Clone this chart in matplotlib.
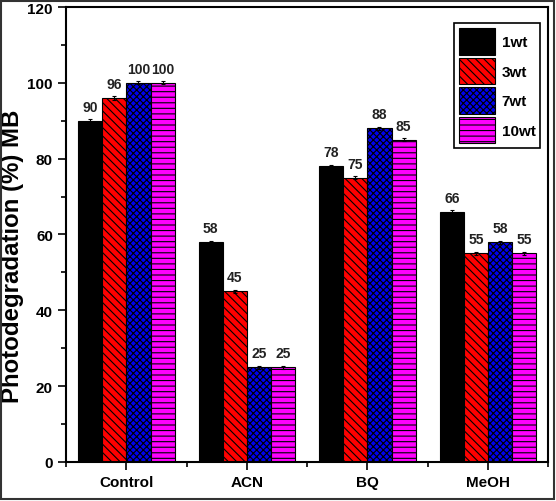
import matplotlib
matplotlib.use("Agg")
import matplotlib.pyplot as plt
import numpy as np
from matplotlib.patches import Rectangle
from matplotlib.ticker import MultipleLocator

categories = ["Control", "ACN", "BQ", "MeOH"]
series_names = ["1wt", "3wt", "7wt", "10wt"]
v_1wt = [90, 58, 78, 66]
v_3wt = [96, 45, 75, 55]
v_7wt = [100, 25, 88, 58]
v_10wt = [100, 25, 85, 55]
errors = [0.4, 0.4, 0.4, 0.4]

colors = ["#000000", "#ff0000", "#0000ee", "#ff00ff"]
hatches = [None, "\\\\\\\\", "xxxxx", "---"]

plt.rcParams['font.family'] = ['Liberation Sans', 'DejaVu Sans']
plt.rcParams['hatch.linewidth'] = 0.8

fig = plt.figure(figsize=(5.56, 5.02), dpi=100)
ax = fig.add_axes([0.119, 0.078, 0.867, 0.906])

x = np.arange(len(categories))
w = 0.2
allvals = [v_1wt, v_3wt, v_7wt, v_10wt]
for i, (vals, name) in enumerate(zip(allvals, series_names)):
    pos = x + (i - 1.5) * w
    ax.bar(pos, vals, w, color=colors[i], edgecolor="black", hatch=hatches[i],
           linewidth=0.8, label=name,
           yerr=errors, error_kw=dict(ecolor="black", capsize=1.5, elinewidth=0.8, capthick=0.8))
    for p, v in zip(pos, vals):
        ax.annotate(f"{v}", (p, v), xytext=(0, 5), textcoords="offset points",
                    ha="center", va="bottom", fontsize=10, fontweight="bold",
                    color="#222222")

ax.set_xlim(-0.5, 3.5)
ax.set_ylim(0, 120)
ax.set_xticks(x)
ax.set_xticklabels(categories, fontsize=11, fontweight="bold")
ax.set_xticks([-0.5, 0.5, 1.5, 2.5, 3.5], minor=True)
ax.yaxis.set_major_locator(MultipleLocator(20))
ax.yaxis.set_minor_locator(MultipleLocator(10))
for lbl in ax.get_yticklabels():
    lbl.set_fontweight("bold")
    lbl.set_fontsize(11)
ax.tick_params(axis="both", which="major", direction="out", length=6, width=1.2)
ax.tick_params(axis="both", which="minor", direction="out", length=3.5, width=1.2)
ax.tick_params(axis="x", which="both", top=False)
for s in ax.spines.values():
    s.set_linewidth(1.5)

ax.set_ylabel("Photodegradation (%) MB", fontsize=17.3, fontweight="bold")
ax.yaxis.set_label_coords(-0.088, 0.455)

leg = ax.legend(loc="upper right", bbox_to_anchor=(0.983, 0.964), borderaxespad=0,
                fancybox=False,
                edgecolor="black", framealpha=1, handlelength=2.4, handleheight=2.3,
                handletextpad=0.4, labelspacing=0.2, borderpad=0.3,
                prop=dict(weight="bold", size=11))
leg.get_frame().set_linewidth(1.2)

fig.patches.append(Rectangle((0.002, 0.003), 0.994, 0.994, transform=fig.transFigure,
                             fill=False, edgecolor="#333333", linewidth=1.5))

fig.savefig("out.png", dpi=100)
